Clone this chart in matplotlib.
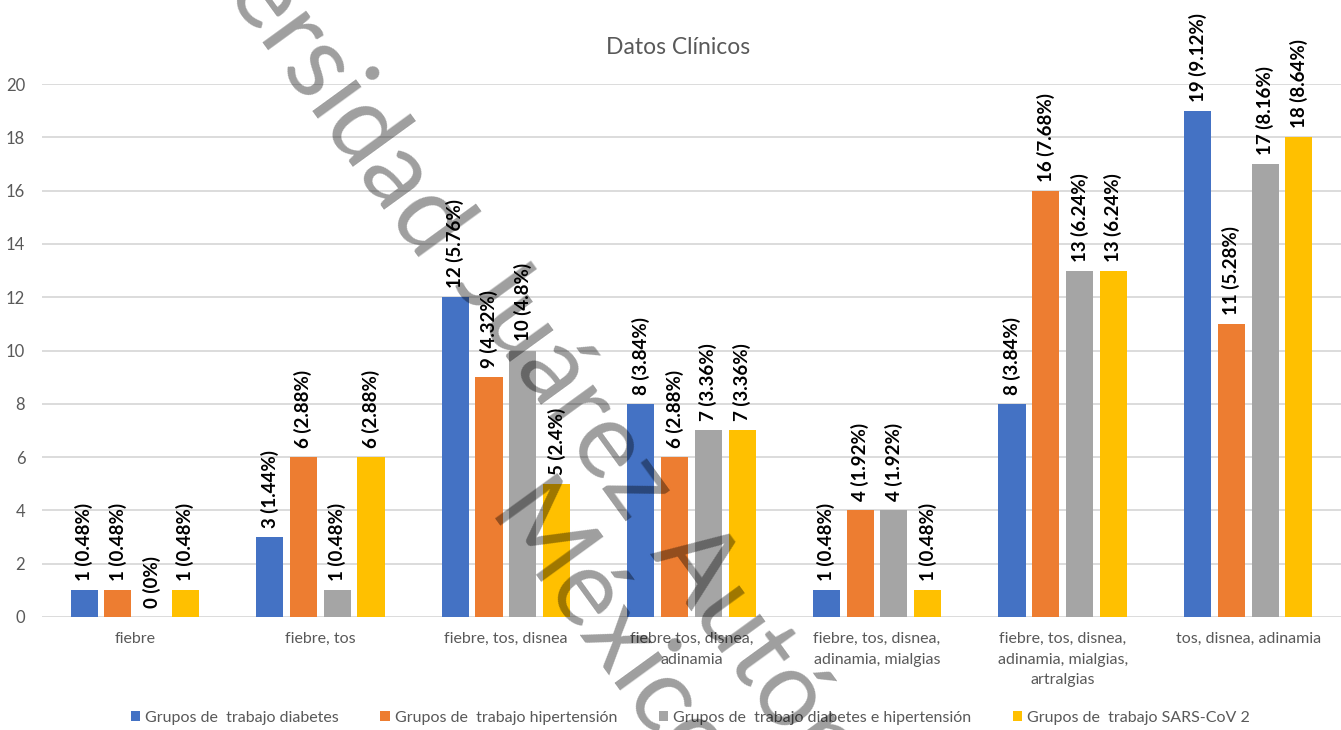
import numpy as np
import matplotlib.pyplot as plt

plt.rcParams['font.family'] = ['Lato', 'DejaVu Sans']

categories = ['fiebre', 'fiebre, tos', 'fiebre, tos, disnea', 'fiebre tos, disnea,\nadinamia',
              'fiebre, tos, disnea,\nadinamia, mialgias',
              'fiebre, tos, disnea,\nadinamia, mialgias,\nartralgias',
              'tos, disnea, adinamia']

series_names = ['Grupos de  trabajo diabetes', 'Grupos de  trabajo hipertensión',
                'Grupos de  trabajo diabetes e hipertensión', 'Grupos de  trabajo SARS-CoV 2']

diabetes = [1, 3, 12, 8, 1, 8, 19]
hipertension = [1, 6, 9, 6, 4, 16, 11]
diab_hip = [0, 1, 10, 7, 4, 13, 17]
sars = [1, 6, 5, 7, 1, 13, 18]

pct_diabetes = ['0.48%', '1.44%', '5.76%', '3.84%', '0.48%', '3.84%', '9.12%']
pct_hipertension = ['0.48%', '2.88%', '4.32%', '2.88%', '1.92%', '7.68%', '5.28%']
pct_diab_hip = ['0%', '0.48%', '4.8%', '3.36%', '1.92%', '6.24%', '8.16%']
pct_sars = ['0.48%', '2.88%', '2.4%', '3.36%', '0.48%', '6.24%', '8.64%']

colors = ['#4472C4', '#ED7D31', '#A5A5A5', '#FFC000']
text_gray = '#595959'

W, H = 1341, 730
fig = plt.figure(figsize=(W / 100, H / 100), dpi=100)
ax = fig.add_axes([0.0313, 0.1548, 0.9687, 0.7301])

x = np.arange(len(categories))
spacing = 0.182
width = 0.146
all_vals = [diabetes, hipertension, diab_hip, sars]
all_pcts = [pct_diabetes, pct_hipertension, pct_diab_hip, pct_sars]

for i in range(4):
    pos = x + (i - 1.5) * spacing
    ax.bar(pos, all_vals[i], width, color=colors[i], label=series_names[i], zorder=2)
    for p, v, s in zip(pos, all_vals[i], all_pcts[i]):
        ax.annotate('%d (%s)' % (v, s), (p, v), xytext=(0, 6.5), textcoords='offset points',
                    rotation=90, ha='center', va='bottom', fontsize=13.5,
                    fontweight='bold', color='black', zorder=3)

ax.set_xlim(-0.5, 6.5)
ax.set_ylim(0, 20)
ax.set_yticks(np.arange(0, 21, 2))
ax.set_xticks(x)
ax.set_xticklabels(categories, fontsize=11.5, color=text_gray, linespacing=1.6)
ax.tick_params(axis='x', length=0, pad=11)
ax.tick_params(axis='y', length=0, pad=12, labelsize=12, labelcolor=text_gray)
ax.grid(axis='y', color='#d9d9d9', linewidth=1.3, zorder=0)
ax.set_axisbelow(True)
for s in ax.spines.values():
    s.set_visible(False)

fig.text(0.5055, 0.935, 'Datos Clínicos', ha='center', va='center', fontsize=16.5, color=text_gray)

fig.legend(loc='center', bbox_to_anchor=(0.5147, 0.017), ncol=4, frameon=False,
           fontsize=11.5, labelcolor=text_gray, handlelength=0.6, handleheight=0.6,
           handletextpad=0.3, columnspacing=2.6)

# watermark, placed word by word along a rotated baseline (pixels, y down)
wm_angle = 54.0
a = np.radians(wm_angle)
d = np.array([np.cos(a), np.sin(a)])
u = np.array([np.sin(a), -np.cos(a)])


def watermark(s, along, perp, ha):
    px, py = along * d + perp * u
    fig.text(px / W, 1 - py / H, s, rotation=-wm_angle, rotation_mode='anchor',
             ha=ha, va='baseline', fontsize=76, color='black', alpha=0.38, zorder=10)


watermark('Universidad', 464, 180, 'right')
watermark('Juárez', 646, 198, 'center')
watermark('Autónoma de Tabasco', 829, 200, 'left')
watermark('México', 703, 88, 'left')

fig.savefig('out.png', dpi=100)
